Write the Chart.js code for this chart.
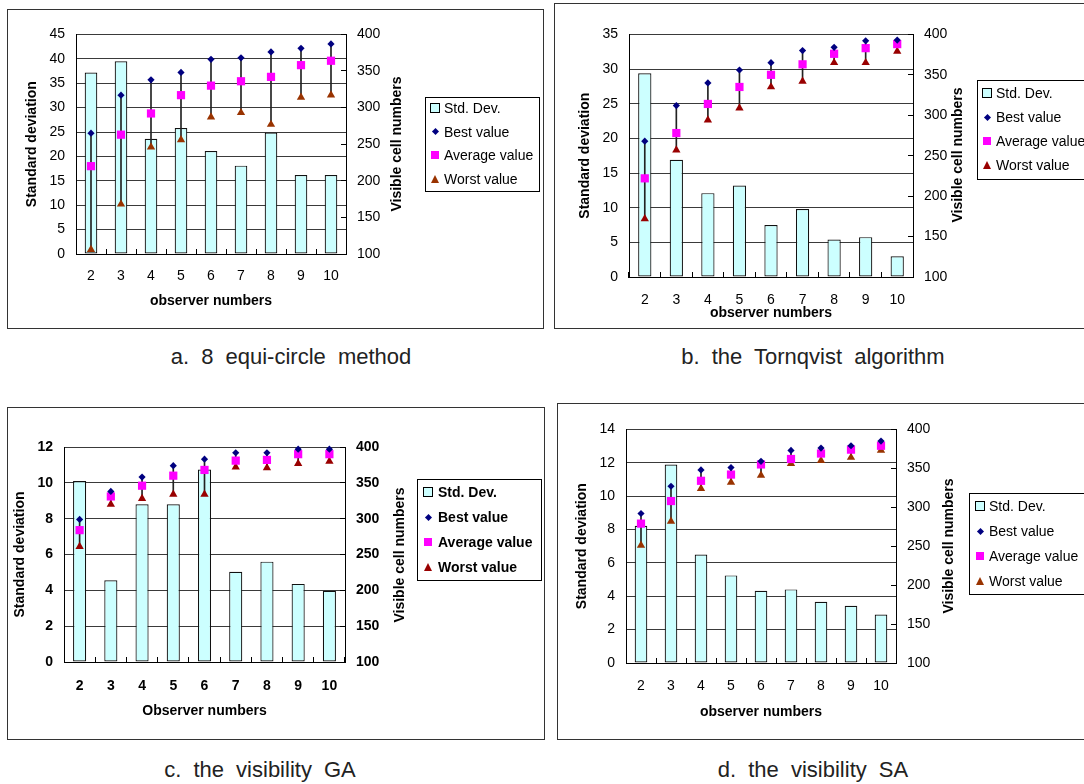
<!DOCTYPE html>
<html>
<head>
<meta charset="utf-8">
<script src="https://cdn.jsdelivr.net/npm/chart.js@4.4.1/dist/chart.umd.min.js"></script>
<style>
  body { margin:0; width:1084px; height:784px; background:#fff; position:relative; overflow:hidden;
         font-family:'Liberation Sans', Arial, sans-serif; color:#000; }
  .panel { position:absolute; border:1.5px solid #333; box-sizing:border-box; }
  canvas { position:absolute; }
  .rtitle { position:absolute; font-weight:bold; font-size:14px; white-space:nowrap;
            transform:translate(-50%,-50%) rotate(-90deg); }
  .legend { position:absolute; border:1px solid #000; background:#fff; box-sizing:border-box; }
  .item { position:absolute; font-size:14px; white-space:nowrap; transform:translateY(-50%); }
  .mk { position:absolute; }
  .caption { position:absolute; width:420px; text-align:center; font-size:22px; color:#222;
             word-spacing:6px; transform:translateY(-50%); }
</style>
</head>
<body>
<script>
// categories
const observers = ['2', '3', '4', '5', '6', '7', '8', '9', '10'];
const seriesNames = ['Std. Dev.', 'Best value', 'Average value', 'Worst value'];
const rightTicks = [100, 150, 200, 250, 300, 350, 400];

// a. 8 equi-circle method
const leftTicksA = [0, 5, 10, 15, 20, 25, 30, 35, 40, 45];
const stdA   = [37.2, 39.5, 23.6, 25.8, 21.1, 18.1, 24.9, 16.2, 16.2];
const bestA  = [265, 317, 338, 348, 366, 368, 376, 381, 387];
const avgA   = [220, 263, 292, 317, 330, 336, 342, 358, 364];
const worstA = [106, 168, 246, 256, 287, 293, 277, 314, 317];

// b. the Tornqvist algorithm
const leftTicksB = [0, 5, 10, 15, 20, 25, 30, 35];
const stdB   = [29.4, 16.9, 12.1, 13.2, 7.5, 9.8, 5.4, 5.75, 3.0];
const bestB  = [268, 312, 340, 356, 365, 380, 384, 392, 393];
const avgB   = [222, 278, 314, 335, 350, 363, 376, 383, 388];
const worstB = [172, 257, 294, 309, 335, 342, 365, 365, 379];

// c. the visibility GA
const leftTicksC = [0, 2, 4, 6, 8, 10, 12];
const stdC   = [10.1, 4.56, 8.8, 8.8, 10.74, 5.04, 5.6, 4.36, 3.97];
const bestC  = [299, 338, 358, 374, 383, 392, 392, 397, 397];
const avgC   = [284, 331, 346, 360, 368, 381, 382, 390, 390];
const worstC = [261, 320, 328, 334, 334, 372, 371, 377, 380];

// d. the visibility SA
const leftTicksD = [0, 2, 4, 6, 8, 10, 12, 14];
const stdD   = [8.22, 11.9, 6.5, 5.25, 4.33, 4.41, 3.67, 3.43, 2.91];
const bestD  = [292, 327, 348, 351, 359, 373, 376, 379, 385];
const avgD   = [279, 308, 334, 342, 355, 362, 369, 374, 379];
const worstD = [251, 282, 324, 332, 341, 356, 360, 364, 373];

const FONT = "'Liberation Sans', Arial, sans-serif";
const BAR_FILL = '#ccffff';
const BEST_COLOR = '#000080';
const AVG_COLOR = '#ff00ff';

const panels = [
  { std: stdA, best: bestA, avg: avgA, worst: worstA, leftTicks: leftTicksA, worstColor: '#993300',
    xTitle: 'observer numbers', caption: 'a. 8 equi-circle method', bold: false,
    box: [7, 9, 537, 320], plot: [76, 33, 346, 254], cv: [20, 10, 370, 304], xPad: 18.6,
    rTitle: [396, 144], legend: [425, 97, 115, 95, 11, 23.5, 435, 444], cap: [291, 357] },
  { std: stdB, best: bestB, avg: avgB, worst: worstB, leftTicks: leftTicksB, worstColor: '#990000',
    xTitle: 'observer numbers', caption: 'b. the Tornqvist algorithm', bold: false,
    box: [554, 3, 540, 326], plot: [629, 33, 913, 277], cv: [573, 10, 387, 316], xPad: 19.6,
    rTitle: [957, 155], legend: [977, 80, 130, 100, 13, 24, 987, 996], cap: [813, 357] },
  { std: stdC, best: bestC, avg: avgC, worst: worstC, leftTicks: leftTicksC, worstColor: '#990000',
    xTitle: 'Observer numbers', caption: 'c. the visibility GA', bold: true,
    box: [7, 407, 538, 333], plot: [64, 447, 345, 662], cv: [8, 420, 387, 304], xPad: 20.6,
    rTitle: [399, 555], legend: [417, 479, 125, 102, 13, 25, 428, 438], cap: [260, 770] },
  { std: stdD, best: bestD, avg: avgD, worst: worstD, leftTicks: leftTicksD, worstColor: '#993300',
    xTitle: 'observer numbers', caption: 'd. the visibility SA', bold: false,
    box: [557, 403, 540, 337], plot: [626, 429, 896, 663], cv: [570, 405, 375, 320], xPad: 19.6,
    rTitle: [948, 546], legend: [969, 493, 130, 102, 13, 25, 980, 989], cap: [813, 770] }
];

function el(cls, css, text) {
  const d = document.createElement('div');
  d.className = cls;
  Object.assign(d.style, css);
  if (text !== undefined) d.textContent = text;
  document.body.appendChild(d);
  return d;
}

function marker(kind, color, cx, cy) {
  if (kind === 0) el('mk', { left: (cx - 5) + 'px', top: (cy - 5) + 'px', width: '10px', height: '10px',
      background: BAR_FILL, border: '1px solid #000', boxSizing: 'border-box' });
  if (kind === 1) el('mk', { left: (cx - 2.5) + 'px', top: (cy - 2.5) + 'px', width: '5px', height: '5px',
      background: color, transform: 'rotate(45deg)' });
  if (kind === 2) el('mk', { left: (cx - 4) + 'px', top: (cy - 4) + 'px', width: '8px', height: '8px', background: color });
  if (kind === 3) el('mk', { left: (cx - 4.5) + 'px', top: (cy - 4) + 'px', width: 0, height: 0,
      borderLeft: '4.5px solid transparent', borderRight: '4.5px solid transparent', borderBottom: '8px solid ' + color });
}

function buildPanel(p) {
  const [bx, by, bw, bh] = p.box;
  el('panel', { left: bx + 'px', top: by + 'px', width: bw + 'px', height: bh + 'px' });

  const [cx, cy, cw, ch] = p.cv;
  const [pl, pt, pr, pb] = p.plot;
  const cv = document.createElement('canvas');
  cv.width = cw; cv.height = ch;
  cv.style.left = cx + 'px'; cv.style.top = cy + 'px';
  cv.style.width = cw + 'px'; cv.style.height = ch + 'px';
  document.body.appendChild(cv);

  const weight = p.bold ? 'bold' : 'normal';
  const tickFont = { family: FONT, size: 14, weight: weight };
  const titleFont = { family: FONT, size: 14, weight: 'bold' };
  const lt = p.leftTicks;

  new Chart(cv, {
    type: 'bar',
    data: {
      labels: observers,
      datasets: [
        { type: 'line', label: seriesNames[1], data: p.best, yAxisID: 'yR', showLine: false, clip: false,
          pointStyle: 'rectRot', pointRadius: 3.6, pointBorderWidth: 0, pointBackgroundColor: BEST_COLOR, order: 0 },
        { type: 'line', label: seriesNames[2], data: p.avg, yAxisID: 'yR', showLine: false, clip: false,
          pointStyle: 'rect', pointRadius: 5.8, pointBorderWidth: 0, pointBackgroundColor: AVG_COLOR, order: 0 },
        { type: 'line', label: seriesNames[3], data: p.worst, yAxisID: 'yR', showLine: false, clip: false,
          pointStyle: 'triangle', pointRadius: 4.8, pointBorderWidth: 0, pointBackgroundColor: p.worstColor, order: 0 },
        { type: 'bar', label: 'range', data: p.worst.map((w, i) => [w, p.best[i]]), yAxisID: 'yR',
          backgroundColor: '#222', borderWidth: 0, barThickness: 1, grouped: false, order: 1 },
        { type: 'bar', label: seriesNames[0], data: p.std, yAxisID: 'y',
          backgroundColor: BAR_FILL, borderColor: '#111', borderWidth: 1.2, borderSkipped: false,
          barPercentage: 0.42, categoryPercentage: 1, grouped: false, order: 2 }
      ]
    },
    options: {
      responsive: false,
      animation: false,
      events: [],
      layout: { padding: { top: pt - cy, left: 0, right: 0, bottom: 0 }, autoPadding: false },
      plugins: { legend: { display: false }, tooltip: { enabled: false } },
      scales: {
        x: {
          offset: true,
          grid: { display: true, offset: true, drawOnChartArea: false, drawTicks: true, tickLength: -5, color: '#000' },
          border: { display: true, color: '#000', width: 1 },
          ticks: { font: tickFont, color: '#000', padding: p.xPad, maxRotation: 0, autoSkip: false },
          title: { display: true, text: p.xTitle, font: titleFont, color: '#000', padding: { top: 0, bottom: 4 } },
          afterFit: s => { s.height = cy + ch - pb; }
        },
        y: {
          position: 'left',
          min: lt[0], max: lt[lt.length - 1],
          ticks: { stepSize: lt[1] - lt[0], font: tickFont, color: '#000', padding: 11 },
          grid: { color: '#3a3a3a', lineWidth: 1, drawTicks: false },
          border: { display: true, color: '#000', width: 1 },
          title: { display: true, text: 'Standard deviation', font: titleFont, color: '#000', padding: { top: 4, bottom: 4 } },
          afterFit: s => { s.width = pl - cx; }
        },
        yR: {
          position: 'right',
          min: rightTicks[0], max: rightTicks[rightTicks.length - 1],
          ticks: { stepSize: rightTicks[1] - rightTicks[0], font: tickFont, color: '#000', padding: 16 },
          grid: { display: true, drawOnChartArea: false, drawTicks: true, tickLength: -5, color: '#000' },
          border: { display: true, color: '#000', width: 1 },
          afterFit: s => { s.width = cx + cw - pr; }
        }
      }
    }
  });

  // right axis title reads bottom-to-top like the left one
  el('rtitle', { left: p.rTitle[0] + 'px', top: p.rTitle[1] + 'px' }, 'Visible cell numbers');

  // legend box
  const [lx, ly, lw, lh, first, step, mx, tx] = p.legend;
  el('legend', { left: lx + 'px', top: ly + 'px', width: lw + 'px', height: lh + 'px' });
  const colors = [BAR_FILL, BEST_COLOR, AVG_COLOR, p.worstColor];
  seriesNames.forEach((name, i) => {
    const yy = ly + first + step * i;
    marker(i, colors[i], mx, yy);
    el('item', { left: tx + 'px', top: yy + 'px', fontWeight: weight }, name);
  });

  el('caption', { left: (p.cap[0] - 210) + 'px', top: p.cap[1] + 'px' }, p.caption);
}

panels.forEach(buildPanel);
</script>
</body>
</html>
